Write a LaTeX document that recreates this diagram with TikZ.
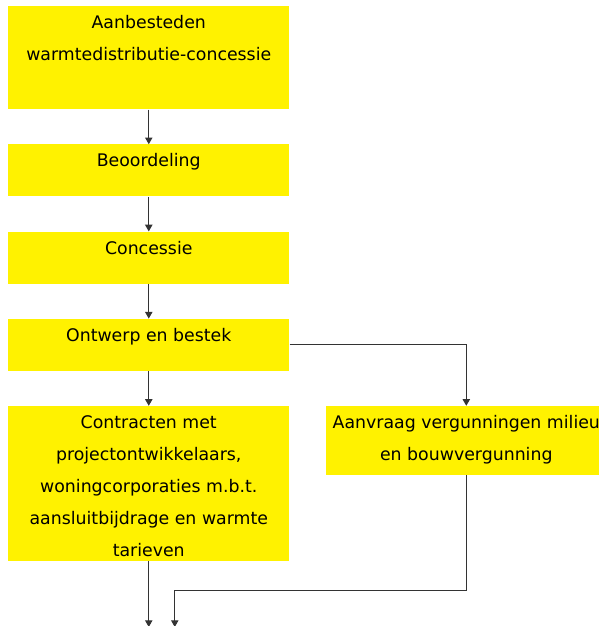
\documentclass[tikz,border=0pt]{standalone}
\usepackage{fontspec}
\setmainfont{DejaVu Sans}
\usetikzlibrary{positioning,arrows.meta}

\newcommand{\stapbox}[2]{\parbox[t][#1][t]{210.75pt}{\centering\strut #2}}

\tikzset{
  stap/.style={fill=yellow, inner sep=0pt, font=\fontsize{13}{24}\selectfont},
  pijl/.style={->, draw=black!80, line width=0.75pt}
}

\begin{document}
\begin{tikzpicture}[node distance=26pt, >={Triangle[width=5.5pt,length=5pt]}]
  \clip (0,0) rectangle (449.25pt,-469.5pt);

  % linker kolom
  \node[stap,anchor=north west] (aanb) at (6pt,-4.5pt) {\stapbox{77.25pt}{Aanbesteden\\warmtedistributie-concessie}};
  \node[stap,below=of aanb] (beoord) {\stapbox{39pt}{Beoordeling}};
  \node[stap,below=of beoord] (conc) {\stapbox{39pt}{Concessie}};
  \node[stap,below=of conc] (ontw) {\stapbox{39pt}{Ontwerp en bestek}};
  \node[stap,below=of ontw] (contr) {\stapbox{116.25pt}{Contracten met\\projectontwikkelaars,\\woningcorporaties m.b.t.\\aansluitbijdrage en warmte\\tarieven}};

  % rechter kolom
  \node[stap,right=27pt of contr.north east,anchor=north west] (aanvr) {\stapbox{51.75pt}{Aanvraag vergunningen milieu\\en bouwvergunning}};

  \coordinate (uit1) at ([yshift=-49.25pt]contr.south);
  \coordinate (uit2) at ([xshift=19.5pt]uit1);

  \draw[pijl] (aanb) -- (beoord);
  \draw[pijl] (beoord) -- (conc);
  \draw[pijl] (conc) -- (ontw);
  \draw[pijl] (ontw) -- (contr);
  \draw[pijl] (ontw.east) -| (aanvr.north);
  \draw[pijl] (contr) -- (uit1);
  \draw[pijl] (aanvr.south) |- ([yshift=27.5pt]uit2) -- (uit2);

\end{tikzpicture}
\end{document}
